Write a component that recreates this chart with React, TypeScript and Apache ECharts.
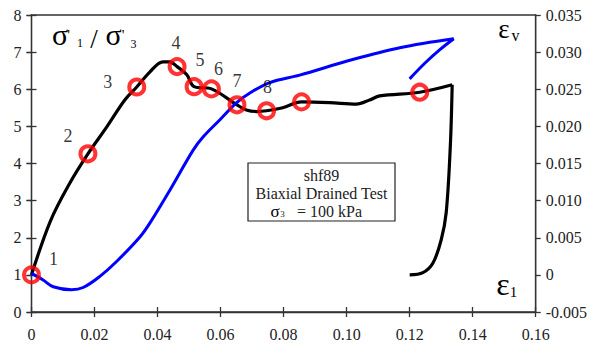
import React, { useEffect, useRef } from "react";
import * as echarts from "echarts";

// sigma'1 / sigma'3 curve (left axis)
const stressX = [0, 0.006, 0.012, 0.0179, 0.024, 0.0296, 0.0334, 0.0376, 0.0417, 0.0439, 0.0462, 0.0493, 0.0516, 0.0571, 0.0652, 0.0682, 0.0714, 0.0746, 0.0797, 0.0857, 0.0946, 0.1031, 0.1073, 0.1105, 0.1232, 0.1335];
const stressY = [1.0, 2.45, 3.45, 4.26, 5.0, 5.71, 6.06, 6.47, 6.74, 6.74, 6.61, 6.39, 6.07, 6.01, 5.58, 5.44, 5.40, 5.42, 5.50, 5.66, 5.64, 5.60, 5.71, 5.82, 5.92, 6.12];

// epsilon_1 curve (right axis)
const eps1X = [0.12, 0.1242, 0.1274, 0.13, 0.1316, 0.1329, 0.1335];
const eps1Y = [0, 0.0003, 0.0016, 0.0047, 0.0084, 0.0173, 0.0256];

// epsilon_v curve (right axis)
const epsVX = [0, 0.0037, 0.0069, 0.0127, 0.0164, 0.0217, 0.027, 0.0344, 0.0376, 0.0439, 0.0513, 0.0545, 0.0598, 0.0651, 0.0693, 0.0756, 0.0851, 0.101, 0.1169, 0.134];
const epsVY = [0.0002, -0.0007, -0.0016, -0.002, -0.0017, -0.0002, 0.0018, 0.0051, 0.007, 0.0114, 0.0168, 0.0186, 0.0209, 0.0232, 0.0245, 0.0259, 0.0269, 0.0289, 0.0306, 0.0318];
const epsVBranchX = [0.12, 0.1248, 0.1295, 0.134];
const epsVBranchY = [0.0264, 0.0285, 0.0303, 0.0318];

// marked points on the stress curve
const pointX = [0, 0.0179, 0.0334, 0.0462, 0.0516, 0.0571, 0.0652, 0.0746, 0.0857, 0.1232];
const pointY = [1.0, 4.26, 6.06, 6.61, 6.07, 6.01, 5.58, 5.42, 5.66, 5.92];
const pointNames = ["1", "2", "3", "4", "5", "6", "7", "8", "", ""];

// label placement (pixels relative to marker centre) — style only
const labelOffsets = [[22, -16], [-20, -18], [-29, -5], [-1, -24], [6, -27], [7, -20], [0, -24], [1, -24], [0, 0], [0, 0]];

const FONT = "'Liberation Serif', 'Times New Roman', serif";
const AX = "#333";
const TXT = "#222";

const zip = (xs: number[], ys: number[]) => xs.map((x, i) => [x, ys[i]]);

const fmt = (d: number) => (v: number) => (Math.abs(v) < 1e-9 ? "0" : v.toFixed(d));

export default function App() {
  const ref = useRef<HTMLDivElement>(null);
  useEffect(() => {
    if (!ref.current) return;
    const chart = echarts.init(ref.current, null, { renderer: "svg" });
    const lineStyle = { color: AX, width: 1.3 };
    const labelBase = { fontFamily: FONT, fontSize: 16, color: TXT };
    const mainX = {
      type: "value", min: 0, max: 0.16, interval: 0.02, position: "bottom",
      axisLine: { show: true, onZero: false, lineStyle },
      axisTick: { show: true, length: 5, lineStyle },
      axisLabel: { ...labelBase, margin: 14, formatter: fmt(2) },
      splitLine: { show: false },
    };
    const innerX = {
      type: "value", min: 0, max: 0.16, interval: 0.02, position: "bottom",
      axisLine: { show: false }, axisTick: { show: true, inside: true, length: 5, lineStyle },
      axisLabel: { show: false }, splitLine: { show: false },
    };
    const leftY = {
      type: "value", min: 0, max: 8, interval: 1, position: "left",
      axisLine: { show: true, onZero: false, lineStyle },
      axisTick: { show: true, length: 5, lineStyle },
      axisLabel: { ...labelBase, margin: 10 },
      splitLine: { show: false },
    };
    const rightY = {
      type: "value", min: -0.005, max: 0.035, interval: 0.005, position: "right",
      axisLine: { show: true, onZero: false, lineStyle },
      axisTick: { show: true, length: 5, lineStyle },
      axisLabel: { ...labelBase, margin: 10, formatter: fmt(3) },
      splitLine: { show: false },
    };
    const innerLeft = {
      type: "value", min: 0, max: 8, interval: 1, position: "left",
      axisLine: { show: false }, axisTick: { show: true, inside: true, length: 5, lineStyle },
      axisLabel: { show: false }, splitLine: { show: false },
    };
    const innerRight = {
      type: "value", min: -0.005, max: 0.035, interval: 0.005, position: "right",
      axisLine: { show: false }, axisTick: { show: true, inside: true, length: 5, lineStyle },
      axisLabel: { show: false }, splitLine: { show: false },
    };
    const txt = (x: number, y: number, text: string, size: number, extra: any = {}) => ({
      type: "text", x, y, z: 50,
      style: { text, fontFamily: FONT, fontSize: size, fill: "#000", align: "center", verticalAlign: "middle", ...extra },
    });
    const option: any = {
      animation: false,
      backgroundColor: "#fff",
      grid: { left: 31.5, right: 55.3, top: 15, bottom: 34, show: true, borderColor: AX, borderWidth: 1.3, outerBoundsMode: "none" },
      xAxis: [mainX, innerX],
      yAxis: [leftY, rightY, innerLeft, innerRight],
      series: [
        {
          type: "line", name: "stress", xAxisIndex: 0, yAxisIndex: 0, data: zip(stressX, stressY),
          showSymbol: false, smooth: 0.35,
          lineStyle: { color: "#000", width: 3.2 }, z: 3,
        },
        {
          type: "line", name: "eps1", xAxisIndex: 0, yAxisIndex: 1, data: zip(eps1X, eps1Y),
          showSymbol: false, smooth: 0.35,
          lineStyle: { color: "#000", width: 3.2 }, z: 3,
        },
        {
          type: "line", name: "epsv", xAxisIndex: 0, yAxisIndex: 1, data: zip(epsVX, epsVY),
          showSymbol: false, smooth: 0.35,
          lineStyle: { color: "#0000ff", width: 3 }, z: 4,
        },
        {
          type: "line", name: "epsvb", xAxisIndex: 0, yAxisIndex: 1, data: zip(epsVBranchX, epsVBranchY),
          showSymbol: false, smooth: 0.35,
          lineStyle: { color: "#0000ff", width: 3 }, z: 4,
        },
        {
          type: "scatter", name: "points", xAxisIndex: 0, yAxisIndex: 0, z: 10,
          symbol: "circle", symbolSize: 15,
          itemStyle: { color: "rgba(0,0,0,0)", borderColor: "#ff0000", borderWidth: 4 },
          data: pointX.map((x, i) => ({
            value: [x, pointY[i]],
            label: { show: pointNames[i] !== "", formatter: pointNames[i], position: "inside", offset: labelOffsets[i] },
          })),
          label: { fontFamily: FONT, fontSize: 18, color: "#000", align: "center", verticalAlign: "middle" },
        },
      ],
      graphic: [
        txt(60, 34, "σ", 30),
        txt(68.5, 35, "'", 15),
        txt(80, 43, "1", 12),
        txt(94, 38.5, "/", 27),
        txt(113.5, 34, "σ", 30),
        txt(123, 35, "'", 15),
        txt(133.5, 43.5, "3", 12),
        txt(504, 29, "ε", 27),
        txt(515.5, 35, "v", 16),
        txt(503, 284, "ε", 32),
        txt(513.5, 292, "1", 15),
        {
          type: "rect", z: 40,
          shape: { x: 248, y: 163, width: 147, height: 58 },
          style: { fill: "#fff", stroke: "#222", lineWidth: 1.2 },
        },
        txt(321.5, 175, "shf89", 16, { fill: TXT }),
        txt(321.5, 193, "Biaxial Drained Test", 16, { fill: TXT }),
        txt(275, 211, "σ", 17, { fill: "#000" }),
        txt(282.5, 214, "3", 9, { fill: TXT }),
        txt(297, 211, "= 100 kPa", 16, { fill: TXT, align: "left" }),
      ],
    };
    chart.setOption(option);
    return () => chart.dispose();
  }, []);
  return <div ref={ref} style={{ position: "fixed", left: 0, top: 0, width: 591, height: 346 }} />;
}
